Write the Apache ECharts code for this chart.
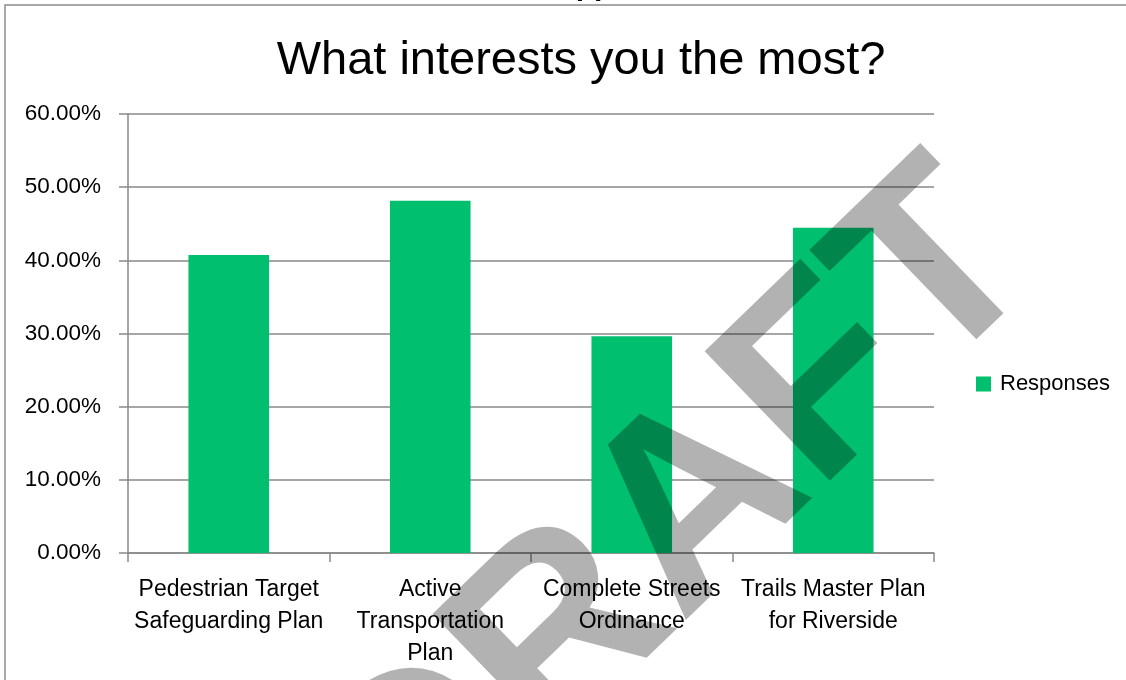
<!DOCTYPE html>
<html>
<head>
<meta charset="utf-8">
<script src="https://cdn.jsdelivr.net/npm/echarts@6/dist/echarts.min.js"></script>
<style>
  html, body { margin: 0; padding: 0; background: #ffffff; }
  #chart { width: 1126px; height: 680px; }
</style>
</head>
<body>
<div id="chart"></div>
<script>
// Survey question and answers (share of respondents, in percent)
const titleText = 'What interests you the most?';
const categories = [
  'Pedestrian Target\nSafeguarding Plan',
  'Active\nTransportation\nPlan',
  'Complete Streets\nOrdinance',
  'Trails Master Plan\nfor Riverside'
];
const responses = [40.74, 48.15, 29.63, 44.44];
const seriesName = 'Responses';
const yMin = 0;
const yMax = 60;
const yStep = 10;

const FONT = '"Liberation Sans", Arial, sans-serif';
const GREEN = '#00BF6F';
const AXIS_GRAY = '#898989';

const chart = echarts.init(document.getElementById('chart'), null, { renderer: 'canvas' });

chart.setOption({
  animation: false,
  backgroundColor: '#ffffff',
  title: {
    text: titleText,
    left: 576,
    top: 33,
    textAlign: 'center',
    textStyle: { fontFamily: FONT, fontSize: 47, fontWeight: 'normal', color: '#000000' }
  },
  legend: {
    data: [seriesName],
    left: 976,
    top: 373,
    padding: 0,
    orient: 'vertical',
    icon: 'rect',
    itemWidth: 15,
    itemHeight: 15,
    itemGap: 8,
    textStyle: { fontFamily: FONT, fontSize: 22, color: '#000000', padding: [0, 0, 0, 4] }
  },
  grid: { left: 128, right: 192, top: 114, bottom: 127, containLabel: false },
  xAxis: {
    type: 'category',
    data: categories,
    boundaryGap: true,
    axisLine: { lineStyle: { color: AXIS_GRAY, width: 1.5 } },
    axisTick: { show: true, length: 9, lineStyle: { color: AXIS_GRAY, width: 1.5 } },
    axisLabel: {
      interval: 0,
      margin: 21,
      fontFamily: FONT,
      fontSize: 23,
      lineHeight: 32,
      color: '#000000',
      align: 'center'
    },
    splitLine: { show: false }
  },
  yAxis: {
    type: 'value',
    min: yMin,
    max: yMax,
    interval: yStep,
    axisLine: { show: true, lineStyle: { color: AXIS_GRAY, width: 1.5 } },
    axisTick: { show: true, length: 9, lineStyle: { color: AXIS_GRAY, width: 1.5 } },
    axisLabel: {
      margin: 27,
      fontFamily: FONT,
      fontSize: 22.5,
      color: '#000000',
      formatter: v => v.toFixed(2) + '%'
    },
    splitLine: { show: true, lineStyle: { color: AXIS_GRAY, width: 1.5 } }
  },
  series: [{
    name: seriesName,
    type: 'bar',
    data: responses,
    barWidth: '40%',
    itemStyle: { color: GREEN }
  }],
  graphic: [
    {
      // page heading above the chart frame, clipped by the page edge
      type: 'text',
      x: 554,
      y: -28,
      z: 1,
      style: {
        text: 'Appendix',
        font: 'bold 30px ' + FONT,
        fill: '#000000',
        align: 'left',
        verticalAlign: 'top'
      }
    },
    {
      // chart frame
      type: 'rect',
      z: 1,
      shape: { x: 5, y: 5, width: 1300, height: 900 },
      style: { fill: 'none', stroke: '#8c8c8c', lineWidth: 1.5 }
    },
    {
      // DRAFT stamp across the chart
      type: 'text',
      x: 678,
      y: 527,
      rotation: 44 * Math.PI / 180,
      z: 200,
      silent: true,
      style: {
        text: 'DRAFT',
        font: 'bold 262px ' + FONT,
        fill: 'rgba(0,0,0,0.3)',
        align: 'center',
        verticalAlign: 'middle'
      }
    }
  ]
});
</script>
</body>
</html>
